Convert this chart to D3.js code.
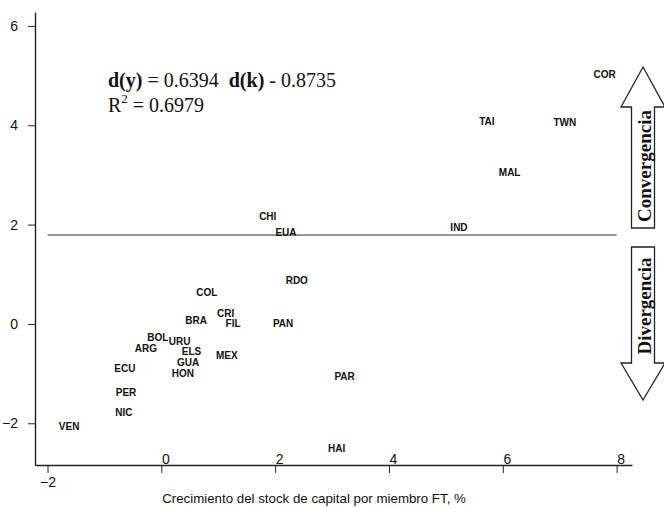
<!DOCTYPE html>
<html>
<head>
<meta charset="utf-8">
<script src="https://cdn.jsdelivr.net/npm/d3@7"></script>
<style>
  body { margin: 0; background: #fff; }
  svg { display: block; }
</style>
</head>
<body>
<div id="chart"></div>
<script>
// country codes and their coordinates (x: capital growth, y: output growth)
const paises = ["COR", "TAI", "TWN", "MAL", "IND", "CHI", "EUA", "RDO", "COL", "CRI", "FIL", "BRA", "PAN",
  "BOL", "URU", "ARG", "ELS", "MEX", "GUA", "HON", "ECU", "PER", "NIC", "VEN", "PAR", "HAI"];
const dk = [7.79, 5.72, 7.09, 6.12, 5.23, 1.87, 2.19, 2.38, 0.80, 1.13, 1.26, 0.61, 2.14,
  -0.06, 0.32, -0.27, 0.53, 1.15, 0.47, 0.38, -0.64, -0.62, -0.66, -1.62, 3.22, 3.08];
const dy = [5.03, 4.08, 4.06, 3.04, 1.95, 2.17, 1.85, 0.88, 0.64, 0.22, 0.0, 0.06, 0.0,
  -0.28, -0.36, -0.50, -0.56, -0.64, -0.78, -0.99, -0.89, -1.39, -1.79, -2.07, -1.05, -2.50];

const xTicks = [-2, 0, 2, 4, 6, 8];
const yTicks = [-2, 0, 2, 4, 6];
const umbral = 1.79;   // horizontal reference line

const W = 664, H = 508;
const margin = {top: 12, right: 32, bottom: 43, left: 35};

const svg = d3.select("#chart").append("svg")
  .attr("width", W).attr("height", H);

const x = d3.scaleLinear().domain([-2.22, 8.27]).range([margin.left, W - margin.right]);
const y = d3.scaleLinear().domain([-2.84, 6.28]).range([H - margin.bottom, margin.top]);

const ink = "#222";
const sans = "Liberation Sans, Arial, sans-serif";
const serif = "Liberation Serif, Times New Roman, serif";

// y axis
const yAxis = svg.append("g")
  .attr("transform", "translate(" + margin.left + ",0)")
  .call(d3.axisLeft(y).tickValues(yTicks).tickSize(7).tickPadding(10).tickSizeOuter(0));
yAxis.select(".domain").attr("stroke", ink).attr("stroke-width", 1.4);
yAxis.selectAll("line").attr("stroke", ink);
yAxis.selectAll("text")
  .attr("font-family", sans)
  .attr("font-size", 14).attr("fill", "#111");

// x axis (labels sit above the line except -2, as in the scan)
const xAxis = svg.append("g")
  .attr("transform", "translate(0," + (H - margin.bottom) + ")")
  .call(d3.axisBottom(x).tickValues(xTicks).tickSize(8).tickSizeOuter(0));
xAxis.select(".domain").attr("stroke", ink).attr("stroke-width", 1.4);
xAxis.selectAll("line").attr("stroke", ink);
xAxis.selectAll("text")
  .attr("font-family", sans)
  .attr("font-size", 14).attr("fill", "#111")
  .attr("y", d => d < 0 ? 12 : -11)
  .attr("dx", d => d < 0 ? 0 : 4)
  .attr("dy", "0.71em");

svg.append("text")
  .attr("x", 314).attr("y", 503)
  .attr("text-anchor", "middle")
  .attr("font-family", sans)
  .attr("font-size", 13.3).attr("fill", "#111")
  .text("Crecimiento del stock de capital por miembro FT, %");

// reference line
svg.append("line")
  .attr("x1", x(-2)).attr("x2", x(8))
  .attr("y1", y(umbral)).attr("y2", y(umbral))
  .attr("stroke", "#333").attr("stroke-width", 1.2);

// country labels
svg.append("g").selectAll("text")
  .data(paises)
  .enter()
  .append("text")
  .attr("x", (d, i) => x(dk[i]))
  .attr("y", (d, i) => y(dy[i]))
  .attr("dy", "0.35em")
  .attr("text-anchor", "middle")
  .attr("font-family", sans)
  .attr("font-weight", "bold")
  .attr("font-size", 10)
  .attr("fill", "#111")
  .text(d => d);

// regression equation
const eq = svg.append("text")
  .attr("x", 108).attr("y", 87)
  .attr("font-family", serif).attr("font-size", 20).attr("fill", "#111");
eq.append("tspan").attr("font-weight", "bold").text("d(y)");
eq.append("tspan").text(" = 0.6394 \u00a0");
eq.append("tspan").attr("font-weight", "bold").text("d(k)");
eq.append("tspan").text(" - 0.8735");

const r2 = svg.append("text")
  .attr("x", 108).attr("y", 112)
  .attr("font-family", serif).attr("font-size", 20).attr("fill", "#111");
r2.append("tspan").text("R");
r2.append("tspan").attr("font-size", 13).attr("dy", -9).text("2");
r2.append("tspan").attr("dy", 9).text(" = 0.6979");

// convergence / divergence arrows
const ax = 643, half = 11.5, head = 22;
function arrow(tipY, baseY, endY) {
  return "M" + ax + "," + tipY +
    "L" + (ax + head) + "," + baseY +
    "L" + (ax + half) + "," + baseY +
    "L" + (ax + half) + "," + endY +
    "L" + (ax - half) + "," + endY +
    "L" + (ax - half) + "," + baseY +
    "L" + (ax - head) + "," + baseY + "Z";
}
svg.append("path").attr("d", arrow(67, 107, 228))
  .attr("fill", "#fff").attr("stroke", ink).attr("stroke-width", 1.3);
svg.append("path").attr("d", arrow(400, 363, 247))
  .attr("fill", "#fff").attr("stroke", ink).attr("stroke-width", 1.3);

svg.append("text")
  .attr("transform", "translate(" + (ax + 8) + ",166) rotate(-90)")
  .attr("text-anchor", "middle")
  .attr("font-family", serif).attr("font-weight", "bold")
  .attr("font-size", 19).attr("fill", "#111")
  .text("Convergencia");
svg.append("text")
  .attr("transform", "translate(" + (ax + 8) + ",306) rotate(-90)")
  .attr("text-anchor", "middle")
  .attr("font-family", serif).attr("font-weight", "bold")
  .attr("font-size", 19).attr("fill", "#111")
  .text("Divergencia");
</script>
</body>
</html>
